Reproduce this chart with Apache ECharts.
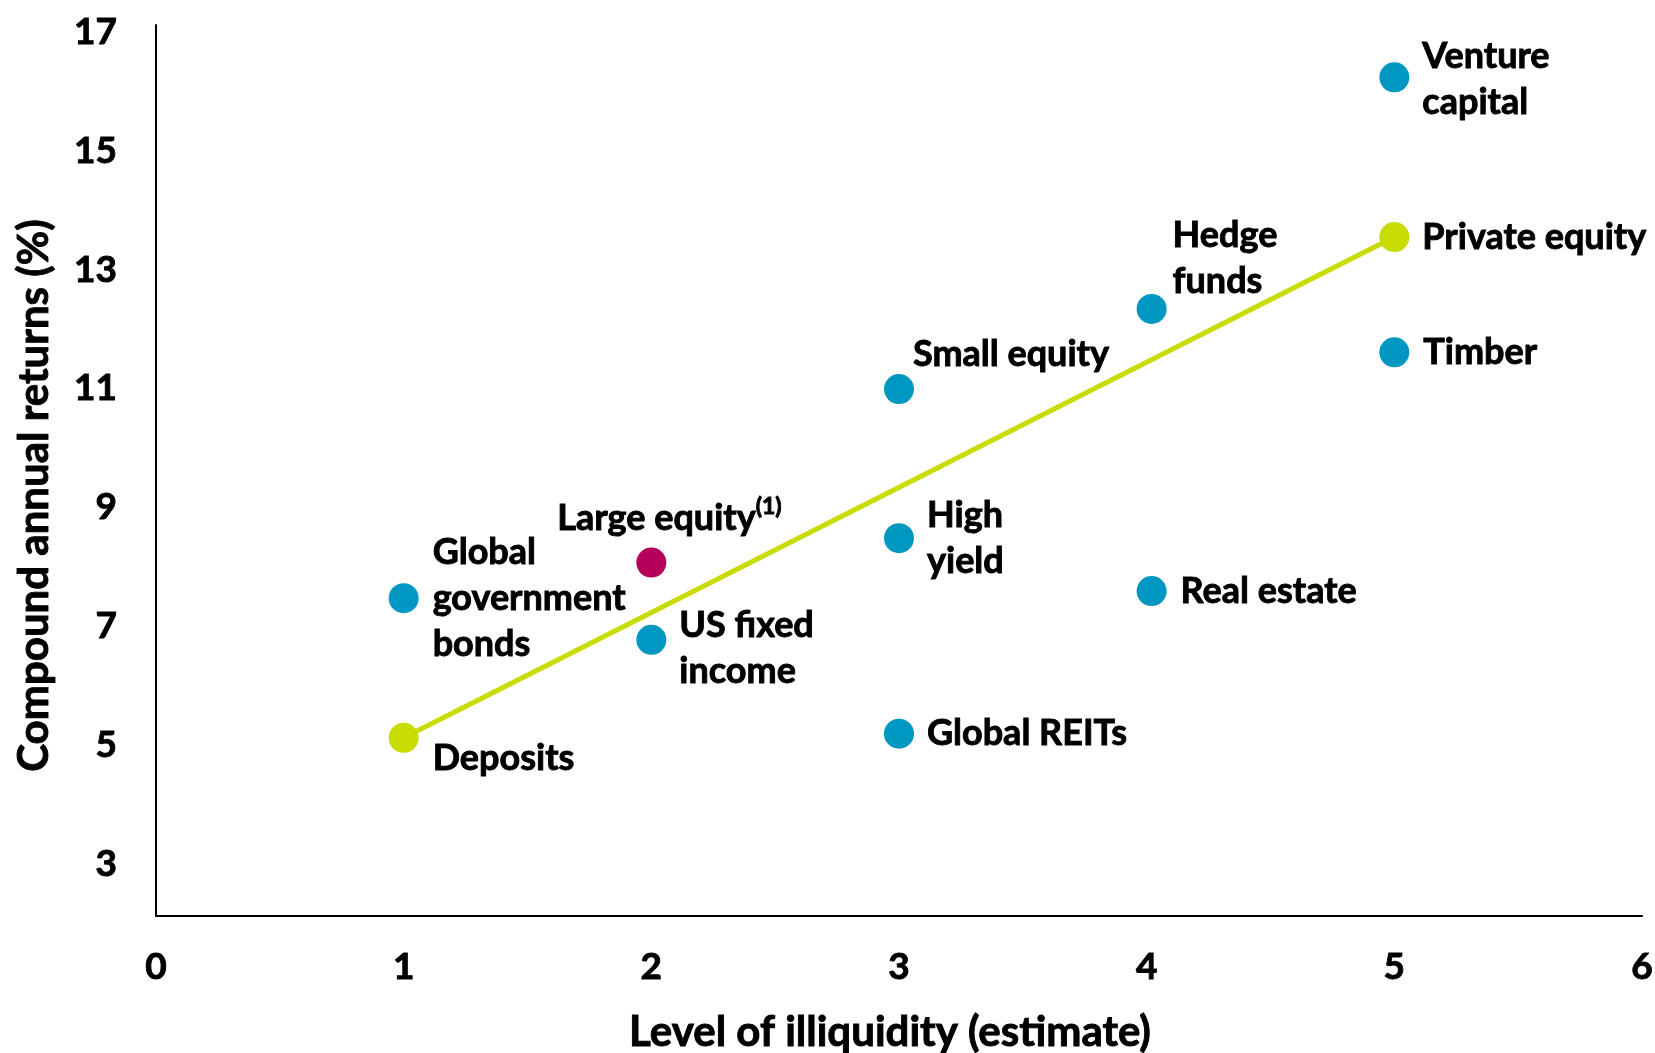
<!DOCTYPE html>
<html>
<head>
<meta charset="utf-8">
<script src="https://cdn.jsdelivr.net/npm/echarts@6/dist/echarts.min.js"></script>
<style>
html,body{margin:0;padding:0;background:#fff;}
#chart{width:1655px;height:1053px;}
</style>
</head>
<body>
<div id="chart"></div>
<script>
// ---- data ----
const assetNames = ['Deposits','Global government bonds','Large equity','US fixed income','Small equity','High yield','Global REITs','Hedge funds','Real estate','Venture capital','Private equity','Timber'];
const illiquidity = [1, 1, 2, 2, 3, 3, 3, 4.02, 4.02, 5, 5, 5];
const annualReturns = [5.0, 7.35, 7.95, 6.65, 10.87, 8.36, 5.07, 12.22, 7.47, 16.12, 13.43, 11.49];
const assetGroup = ['trend','other','highlight','other','other','other','other','other','other','other','trend','other'];
const trendEnds = ['Deposits', 'Private equity'];
const xTicks = [0, 1, 2, 3, 4, 5, 6];
const yTickLabels = [3, 5, 7, 9, 11, 13, 15, 17];

// ---- styles ----
const groupColor = { other: '#0097C2', trend: '#C8DC02', highlight: '#B5005B' };
const FONT = 'Lato';
const STROKE = { textBorderColor: '#000', textBorderWidth: 0.9 };
const labelStyle = {
  'Deposits':               { text: 'Deposits', distance: 14, offset: [0, 21] },
  'Global government bonds':{ text: 'Global\ngovernment\nbonds', distance: 14, offset: [0, 0] },
  'Large equity':           { text: '{a|Large equity}{s|(1)}', distance: 0, offset: [-109, -44] },
  'US fixed income':        { text: 'US fixed\nincome', distance: 13, offset: [0, 9] },
  'Small equity':           { text: 'Small equity', distance: 0, offset: [-1, -35] },
  'High yield':             { text: 'High\nyield', distance: 13, offset: [0, 0] },
  'Global REITs':           { text: 'Global REITs', distance: 13, offset: [0, 0] },
  'Hedge funds':            { text: 'Hedge\nfunds', distance: 6, offset: [0, -51] },
  'Real estate':            { text: 'Real estate', distance: 14, offset: [0, 0] },
  'Venture capital':        { text: 'Venture\ncapital', distance: 13, offset: [0, 2] },
  'Private equity':         { text: 'Private equity', distance: 13, offset: [0, 0] },
  'Timber':                 { text: 'Timber', distance: 14, offset: [0, 0] }
};

const pointData = assetNames.map((n, i) => {
  const ls = labelStyle[n];
  return {
    name: n,
    value: [illiquidity[i], annualReturns[i]],
    itemStyle: { color: groupColor[assetGroup[i]], opacity: 1 },
    label: {
      show: true,
      position: 'right',
      distance: ls.distance,
      offset: ls.offset,
      formatter: ls.text
    }
  };
});

const trendData = trendEnds.map(n => {
  const i = assetNames.indexOf(n);
  return [illiquidity[i], annualReturns[i]];
});

const chart = echarts.init(document.getElementById('chart'), null, { renderer: 'canvas' });
chart.setOption({
  animation: false,
  backgroundColor: '#ffffff',
  grid: { left: 156, top: 25, width: 1486, height: 891, containLabel: false, outerBoundsMode: 'none' },
  xAxis: {
    type: 'value', min: 0, max: 6, interval: 1,
    splitLine: { show: false },
    axisTick: { show: false },
    axisLine: { show: true, onZero: false, lineStyle: { color: '#000', width: 2 } },
    axisLabel: Object.assign({ color: '#000', fontFamily: FONT, fontWeight: 'bold', fontSize: 37, margin: 33,
      customValues: xTicks }, STROKE),
    name: 'Level of illiquidity (estimate)',
    nameLocation: 'middle', nameGap: 95,
    nameTextStyle: Object.assign({ color: '#000', fontFamily: FONT, fontWeight: 'bold', fontSize: 42, padding: [0, 18, 0, 0] }, STROKE)
  },
  yAxis: {
    type: 'value', min: 2, max: 17,
    splitLine: { show: false },
    axisTick: { show: false },
    axisLine: { show: true, onZero: false, lineStyle: { color: '#000', width: 2 } },
    axisLabel: {
      margin: 39,
      customValues: yTickLabels,
      formatter: v => '{v|' + v + '}',
      rich: {
        v: Object.assign({ color: '#000', fontFamily: FONT, fontWeight: 'bold', fontSize: 37, padding: [14, 0, 0, 0] }, STROKE)
      }
    },
    name: 'Compound annual returns (%)',
    nameLocation: 'middle', nameGap: 101,
    nameTextStyle: Object.assign({ color: '#000', fontFamily: FONT, fontWeight: 'bold', fontSize: 42, padding: [0, 50, 0, 0] }, STROKE)
  },
  series: [
    {
      type: 'line',
      data: trendData,
      symbol: 'none',
      lineStyle: { color: groupColor.trend, width: 5 },
      z: 1,
      silent: true
    },
    {
      type: 'scatter',
      data: pointData,
      symbolSize: 30,
      z: 3,
      label: Object.assign({
        color: '#000', fontFamily: FONT, fontWeight: 'bold', fontSize: 36, lineHeight: 46,
        rich: {
          a: Object.assign({ color: '#000', fontFamily: FONT, fontWeight: 'bold', fontSize: 36, lineHeight: 46 }, STROKE),
          s: Object.assign({ color: '#000', fontFamily: FONT, fontWeight: 'bold', fontSize: 23, verticalAlign: 'top', lineHeight: 46 }, STROKE)
        }
      }, STROKE)
    }
  ]
});
</script>
</body>
</html>
